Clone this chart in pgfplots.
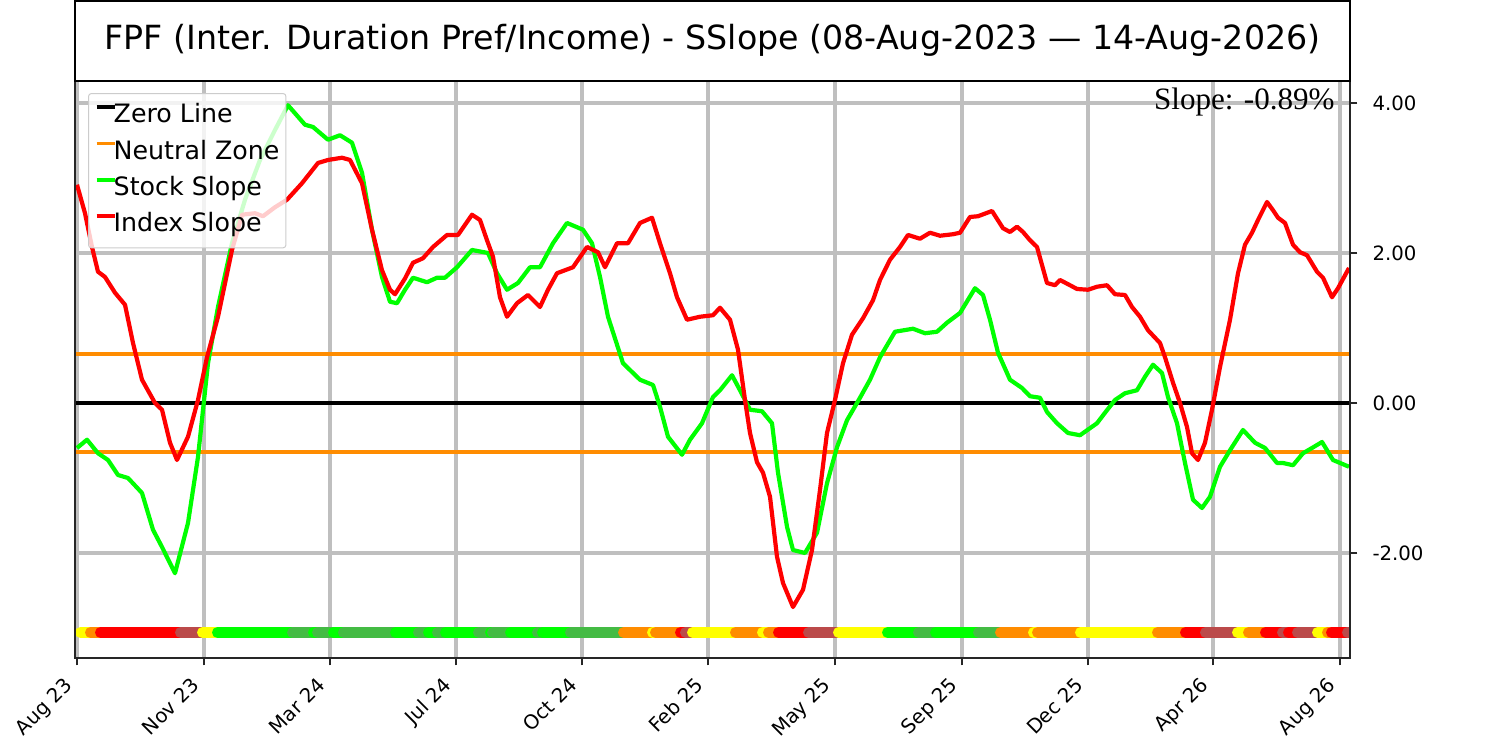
\documentclass[border=0pt]{standalone}
\usepackage{pgfplots}
\pgfplotsset{compat=1.18}
\usepackage{fontspec}
\setmainfont{DejaVu Sans}
\newfontfamily\slopefont{Liberation Serif}
\usetikzlibrary{calc}
\definecolor{cY}{HTML}{FFFF00}
\definecolor{cO}{HTML}{FF8C00}
\definecolor{cR}{HTML}{FF0000}
\definecolor{cB}{HTML}{BB4A4A}
\definecolor{cG}{HTML}{00FF00}
\definecolor{cD}{HTML}{44BB44}
\newcommand{\seg}[3]{\addplot[forget plot, color=#1, line width=5.5bp, line cap=round] coordinates {(#2,-3.06) (#3,-3.06)};}
\begin{document}
\begin{tikzpicture}
\begin{axis}[
  name=ax,
  scale only axis, width=637.5bp, height=288.5bp,
  xmin=75, xmax=1350, ymin=-3.40, ymax=4.293,
  xtick={77,204,330,456,582,708,835,962,1088,1213,1340},
  xticklabels={Aug 23,Nov 23,Mar 24,Jul 24,Oct 24,Feb 25,May 25,Sep 25,Dec 25,Apr 26,Aug 26},
  ytick={-2,0,2,4}, yticklabels={-2.00,0.00,2.00,4.00},
  ytick pos=right, yticklabel pos=right, xtick pos=bottom,
  tick align=outside,
  major tick length=3.65bp,
  every tick/.style={black!85, line width=0.85bp},
  grid=major,
  major grid style={black!25, line width=2.1bp},
  axis line style={black!85, line width=1.1bp},
  tick label style={font=\fontsize{9.9}{11}\selectfont},
  x tick label style={rotate=45, anchor=south east, inner sep=0pt, text height=7.2bp, text depth=2.3bp},
  xticklabel shift=12.3bp,
  y tick label style={anchor=west, inner sep=0pt, xshift=7.4bp},
  legend style={at={(axis description cs:0,1)}, anchor=north west, xshift=6.5bp, yshift=-6bp,
    font=\fontsize{12.7}{14}\selectfont,
    draw=black!20, line width=0.5bp, rounded corners=1.5bp,
    fill=white, fill opacity=0.8, text opacity=1, draw opacity=1,
    inner xsep=3.2bp, inner ysep=5.4bp, row sep=6.4bp, column sep=-1.4bp,
    nodes={inner sep=0pt, text height=9.2bp, text depth=2.6bp, anchor=west}},
  legend cell align=left,
  legend image code/.code={\draw[#1, line width=1.8bp, line cap=butt] (0bp,4.6bp) -- (9bp,4.6bp);},
]
\addplot[black, line width=2.3bp] coordinates {(75,0) (1350,0)};
\addlegendentry{Zero Line}
\addplot[cO, line width=2.1bp] coordinates {(75,0.65) (1350,0.65)};
\addlegendentry{Neutral Zone}
\addplot[cO, line width=2.1bp, forget plot] coordinates {(75,-0.65) (1350,-0.65)};
\addplot[cG, line width=2.1bp, line join=round] coordinates {
(77,-0.60) (87,-0.49) (98,-0.67) (108,-0.76) (118,-0.96) (128,-1.00) (142,-1.20) (153,-1.69) (162,-1.92) (175,-2.27) (188,-1.60) (198,-0.72) (208,0.53) (218,1.28) (232,2.13) (245,2.71) (260,3.24) (275,3.64) (288,3.97) (305,3.71) (313,3.68) (328,3.51) (340,3.57) (352,3.47) (362,3.07) (372,2.31) (382,1.68) (390,1.35) (397,1.33) (405,1.51) (413,1.67) (427,1.61) (437,1.67) (445,1.67) (457,1.81) (472,2.04) (488,2.00) (497,1.73) (507,1.51) (518,1.60) (530,1.81) (540,1.81) (553,2.13) (567,2.40) (583,2.31) (592,2.13) (600,1.68) (608,1.15) (623,0.53) (640,0.31) (653,0.24) (660,-0.05) (668,-0.45) (682,-0.69) (690,-0.49) (702,-0.27) (713,0.08) (720,0.17) (732,0.37) (740,0.17) (750,-0.09) (762,-0.11) (772,-0.27) (778,-0.93) (787,-1.65) (793,-1.96) (805,-2.00) (817,-1.73) (827,-1.07) (837,-0.59) (847,-0.23) (860,0.07) (870,0.31) (880,0.61) (895,0.95) (913,0.99) (925,0.93) (937,0.95) (947,1.07) (960,1.20) (975,1.53) (983,1.44) (990,1.11) (998,0.67) (1010,0.31) (1022,0.20) (1030,0.09) (1040,0.07) (1047,-0.12) (1057,-0.27) (1068,-0.40) (1080,-0.43) (1097,-0.27) (1105,-0.13) (1115,0.04) (1125,0.13) (1137,0.17) (1145,0.35) (1153,0.51) (1162,0.40) (1168,0.08) (1177,-0.27) (1185,-0.80) (1193,-1.29) (1202,-1.40) (1210,-1.25) (1220,-0.85) (1230,-0.63) (1243,-0.36) (1255,-0.53) (1265,-0.60) (1277,-0.80) (1283,-0.80) (1293,-0.83) (1303,-0.67) (1312,-0.60) (1322,-0.52) (1333,-0.76) (1349,-0.85)
};
\addlegendentry{Stock Slope}
\addplot[cR, line width=2.1bp, line join=round] coordinates {
(77,2.91) (85,2.53) (92,2.08) (98,1.75) (105,1.68) (115,1.47) (125,1.31) (133,0.80) (142,0.31) (155,0.00) (162,-0.09) (170,-0.53) (177,-0.76) (188,-0.45) (198,0.04) (207,0.61) (218,1.15) (232,2.04) (242,2.51) (255,2.53) (263,2.49) (275,2.61) (287,2.71) (302,2.93) (318,3.20) (328,3.24) (342,3.27) (350,3.24) (362,2.93) (372,2.31) (382,1.77) (390,1.51) (395,1.45) (405,1.66) (413,1.87) (423,1.93) (433,2.08) (447,2.24) (458,2.24) (472,2.51) (480,2.44) (487,2.17) (493,1.95) (500,1.41) (507,1.15) (517,1.33) (528,1.44) (540,1.28) (548,1.51) (557,1.73) (573,1.81) (587,2.08) (598,2.01) (605,1.81) (617,2.13) (628,2.13) (640,2.40) (652,2.47) (660,2.13) (670,1.73) (677,1.41) (687,1.11) (700,1.15) (713,1.17) (720,1.27) (730,1.11) (738,0.71) (745,0.04) (750,-0.40) (757,-0.79) (763,-0.93) (770,-1.25) (777,-2.05) (783,-2.40) (793,-2.72) (803,-2.49) (812,-1.96) (820,-1.16) (827,-0.40) (835,0.04) (843,0.53) (852,0.91) (863,1.13) (873,1.37) (880,1.64) (890,1.91) (900,2.08) (908,2.24) (920,2.19) (930,2.27) (940,2.23) (953,2.25) (960,2.27) (970,2.48) (978,2.49) (992,2.56) (1003,2.33) (1010,2.28) (1017,2.35) (1023,2.28) (1030,2.17) (1037,2.08) (1047,1.60) (1055,1.57) (1060,1.64) (1070,1.57) (1077,1.52) (1088,1.51) (1097,1.55) (1107,1.57) (1115,1.45) (1125,1.44) (1132,1.28) (1140,1.15) (1148,0.97) (1160,0.80) (1165,0.61) (1173,0.27) (1180,0.00) (1187,-0.32) (1192,-0.67) (1198,-0.76) (1205,-0.53) (1212,-0.09) (1220,0.48) (1230,1.11) (1238,1.73) (1245,2.11) (1252,2.27) (1258,2.44) (1267,2.68) (1273,2.57) (1278,2.47) (1285,2.40) (1293,2.11) (1300,2.01) (1307,1.97) (1317,1.75) (1323,1.67) (1332,1.41) (1338,1.53) (1349,1.80)
};
\addlegendentry{Index Slope}
\seg{cY}{80.5}{90.5}
\seg{cO}{90.5}{100.5}
\seg{cR}{100.5}{180.5}
\seg{cB}{180.5}{202.5}
\seg{cY}{202.5}{217.5}
\seg{cG}{217.5}{292.5}
\seg{cD}{292.5}{313.5}
\seg{cG}{313.5}{317.5}
\seg{cD}{317.5}{333.5}
\seg{cG}{333.5}{343.5}
\seg{cD}{343.5}{395.5}
\seg{cG}{395.5}{418.5}
\seg{cD}{418.5}{428.5}
\seg{cG}{428.5}{437.5}
\seg{cD}{437.5}{445.5}
\seg{cG}{445.5}{478.5}
\seg{cD}{478.5}{490.5}
\seg{cG}{490.5}{492.5}
\seg{cD}{492.5}{510.5}
\seg{cG}{510.5}{537.5}
\seg{cD}{537.5}{542.5}
\seg{cG}{542.5}{570.5}
\seg{cD}{570.5}{623.5}
\seg{cO}{623.5}{652.5}
\seg{cY}{652.5}{655.5}
\seg{cO}{655.5}{680.5}
\seg{cR}{680.5}{685.5}
\seg{cB}{685.5}{692.5}
\seg{cY}{692.5}{735.5}
\seg{cO}{735.5}{762.5}
\seg{cY}{762.5}{768.5}
\seg{cO}{768.5}{778.5}
\seg{cR}{778.5}{808.5}
\seg{cB}{808.5}{838.5}
\seg{cY}{838.5}{887.5}
\seg{cG}{887.5}{918.5}
\seg{cD}{918.5}{935.5}
\seg{cG}{935.5}{978.5}
\seg{cD}{978.5}{1000.5}
\seg{cO}{1000.5}{1033.5}
\seg{cY}{1033.5}{1037.5}
\seg{cO}{1037.5}{1080.5}
\seg{cY}{1080.5}{1157.5}
\seg{cO}{1157.5}{1185.5}
\seg{cR}{1185.5}{1205.5}
\seg{cB}{1205.5}{1237.5}
\seg{cY}{1237.5}{1248.5}
\seg{cO}{1248.5}{1265.5}
\seg{cR}{1265.5}{1282.5}
\seg{cB}{1282.5}{1288.5}
\seg{cR}{1288.5}{1297.5}
\seg{cB}{1297.5}{1317.5}
\seg{cY}{1317.5}{1327.5}
\seg{cO}{1327.5}{1331.5}
\seg{cR}{1331.5}{1347.5}
\seg{cB}{1347.5}{1355.5}
\end{axis}
\draw[black!85, line width=1.1bp] (ax.south west) rectangle (ax.north east);
\draw[black, line width=0.8bp] (ax.north west) rectangle ($(ax.north east)+(0,40bp)$);
\node[font=\fontsize{16.7}{20}\selectfont] at ($(ax.north)+(0,20.5bp)$) {FPF (Inter. Duration Pref/Income) - SSlope (08-Aug-2023 — 14-Aug-2026)};
\node[anchor=base east, font=\slopefont\fontsize{15.6}{18}\selectfont, inner sep=0pt] at ($(ax.north east)+(-7.5bp,-14.5bp)$) {Slope: -0.89\%};
\pgfresetboundingbox
\path ($(ax.south west)+(-37.5bp,-41.5bp)$) rectangle ($(ax.north east)+(75bp,40.5bp)$);
\end{tikzpicture}
\end{document}
